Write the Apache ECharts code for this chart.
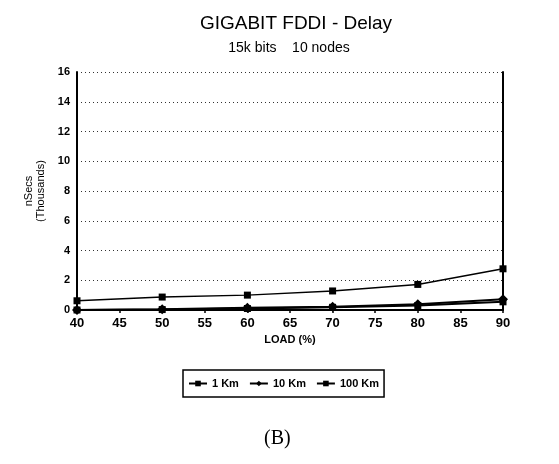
<!DOCTYPE html>
<html><head><meta charset="utf-8">
<script src="https://cdn.jsdelivr.net/npm/echarts@6/dist/echarts.min.js"></script>
<style>html,body{margin:0;padding:0;background:#fff}#c{width:559px;height:464px}</style>
</head><body><div id="c"></div>
<script>
var loads = [40, 50, 60, 70, 80, 90];
var km1 = [0.0, 0.03, 0.1, 0.18, 0.3, 0.55];
var km10 = [0.0, 0.05, 0.15, 0.22, 0.38, 0.72];
var km100 = [0.62, 0.87, 1.0, 1.28, 1.72, 2.77];
var seriesNames = ['1 Km', '10 Km', '100 Km'];

function pairs(v){ return loads.map(function(x,i){ return [x, v[i]]; }); }

var chart = echarts.init(document.getElementById('c'));
var lineStyle = {color:'#000', width:2};
chart.setOption({
  animation:false,
  backgroundColor:'#fff',
  title:[{
    text:'GIGABIT FDDI - Delay', left:291, top:9, textAlign:'center',
    textStyle:{fontFamily:'Liberation Sans', fontSize:19, fontWeight:'normal', color:'#000'}
  },{
    text:'15k bits    10 nodes', left:284, top:36, textAlign:'center',
    textStyle:{fontFamily:'Liberation Sans', fontSize:14, fontWeight:500, color:'#000'}
  }],
  legend:{
    data:seriesNames, left:183, top:370, orient:'horizontal',
    itemWidth:18, itemHeight:7, itemGap:10,
    borderColor:'#000', borderWidth:1.5, padding:[8,5,8,5],
    textStyle:{fontFamily:'Liberation Sans', fontSize:11, fontWeight:'bold', color:'#000'}
  },
  graphic:[{
    type:'text', left:264, top:429,
    style:{text:'(B)', font:'20px "Liberation Serif"', fill:'#000'}
  }],
  grid:{left:77, right:56, top:72, bottom:154},
  xAxis:{
    type:'value', min:40, max:90, interval:5,
    name:'LOAD (%)', nameLocation:'middle', nameGap:24,
    nameTextStyle:{fontFamily:'Liberation Sans', fontSize:11, fontWeight:'bold', color:'#000'},
    axisLine:{lineStyle:{color:'#000', width:2}},
    axisTick:{show:true, inside:false, length:3, lineStyle:{color:'#000', width:1.5}},
    axisLabel:{fontFamily:'Liberation Sans', fontSize:13, fontWeight:'bold', color:'#000', margin:7},
    splitLine:{show:false}
  },
  yAxis:[{
    type:'value', min:0, max:16, interval:2,
    name:'nSecs\n(Thousands)', nameLocation:'middle', nameGap:28, nameRotate:90,
    nameTextStyle:{fontFamily:'Liberation Sans', fontSize:11, color:'#000', lineHeight:12},
    axisLine:{show:true, lineStyle:{color:'#000', width:2}},
    axisTick:{show:false},
    axisLabel:{fontFamily:'Liberation Sans', fontSize:11, fontWeight:'bold', color:'#000', margin:7},
    splitLine:{show:true, lineStyle:{color:'#333', type:[1,3], width:1}}
  },{
    type:'value', min:0, max:16, interval:2, position:'right',
    axisLine:{show:true, lineStyle:{color:'#000', width:2}},
    axisTick:{show:false}, axisLabel:{show:false}, splitLine:{show:false}
  }],
  series:[{
    name:seriesNames[0], type:'line', data:pairs(km1),
    symbol:'rect', symbolSize:7, lineStyle:lineStyle, itemStyle:{color:'#000'}
  },{
    name:seriesNames[1], type:'line', data:pairs(km10),
    symbol:'diamond', symbolSize:10, lineStyle:lineStyle, itemStyle:{color:'#000'}
  },{
    name:seriesNames[2], type:'line', data:pairs(km100),
    symbol:'rect', symbolSize:7, lineStyle:{color:'#000', width:1.5}, itemStyle:{color:'#000'}
  }]
});
</script></body></html>
